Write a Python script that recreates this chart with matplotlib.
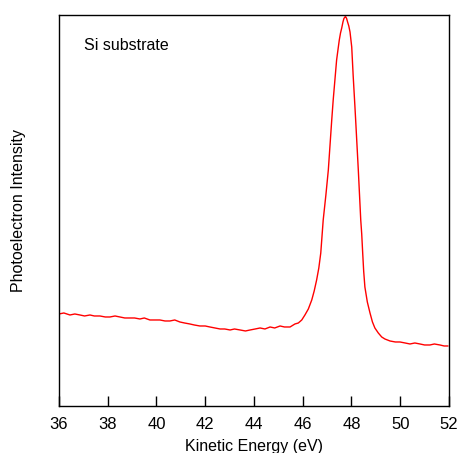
import matplotlib
matplotlib.use("Agg")
import matplotlib.pyplot as plt

# spectrum (kinetic energy in eV, intensity in arb. units)
energy = [36.00, 36.20, 36.45, 36.65, 36.86, 37.05, 37.27, 37.45, 37.68, 37.90,
          38.09, 38.30, 38.50, 38.70, 38.91, 39.10, 39.32, 39.50, 39.73, 39.95,
          40.14, 40.35, 40.55, 40.75, 40.96, 41.15, 41.37, 41.55, 41.78, 42.00,
          42.19, 42.40, 42.61, 42.80, 43.02, 43.20, 43.43, 43.65, 43.84, 44.05,
          44.25, 44.45, 44.66, 44.85, 45.07, 45.25, 45.48, 45.68, 45.82, 45.96,
          46.09, 46.23, 46.37, 46.47, 46.57, 46.66, 46.74, 46.84, 46.95, 47.05,
          47.12, 47.19, 47.25, 47.32, 47.39, 47.45, 47.50, 47.55, 47.60, 47.65,
          47.69, 47.73, 47.76, 47.80, 47.84, 47.89, 47.94, 48.01, 48.07, 48.14,
          48.18, 48.23, 48.28, 48.33, 48.38, 48.42, 48.46, 48.50, 48.55, 48.65,
          48.76, 48.86, 48.96, 49.10, 49.24, 49.37, 49.58, 49.80, 49.99, 50.20,
          50.40, 50.60, 50.81, 51.00, 51.22, 51.40, 51.63, 51.80, 51.95]
intensity = [92, 93, 91, 92, 91, 90, 91, 90, 90, 89,
             89, 90, 89, 88, 88, 88, 87, 88, 86, 86,
             86, 85, 85, 86, 84, 83, 82, 81, 80, 80,
             79, 78, 77, 77, 76, 77, 76, 75, 76, 77,
             78, 77, 79, 78, 80, 79, 79, 82, 83, 86,
             91, 97, 106, 115, 126, 138, 153, 186, 211, 236,
             261, 286, 306, 326, 346, 357, 366, 373, 378, 384,
             387.5, 389, 389.3, 387.5, 384, 380, 374, 359, 330, 300,
             282, 259, 236, 211, 186, 172, 153, 135, 119, 104,
             93, 84, 78, 73, 69, 67, 65, 64, 64, 63,
             62, 63, 62, 61, 61, 62, 61, 60, 60]

xticks = [36, 38, 40, 42, 44, 46, 48, 50, 52]

plt.rcParams["font.family"] = ["Liberation Sans", "DejaVu Sans"]

fig = plt.figure(figsize=(4.58, 4.53), dpi=100)
ax = fig.add_axes([0.1288, 0.1038, 0.8515, 0.8631])

ax.plot(energy, intensity, color="red", linewidth=1.0)

ax.set_xlim(36, 52)
ax.set_ylim(0, 391)
ax.set_xticks(xticks)
ax.set_yticks([])
ax.tick_params(axis="x", direction="in", length=7, width=1, labelsize=12, pad=8)
for s in ax.spines.values():
    s.set_linewidth(1.0)

ax.set_xlabel("Kinetic Energy (eV)", fontsize=11.5, labelpad=5)
ax.set_ylabel("Photoelectron Intensity", fontsize=11.5, labelpad=24)
ax.text(0.065, 0.923, "Si substrate", transform=ax.transAxes, fontsize=11.5,
        va="center", ha="left")

fig.savefig("out.png", dpi=100)
